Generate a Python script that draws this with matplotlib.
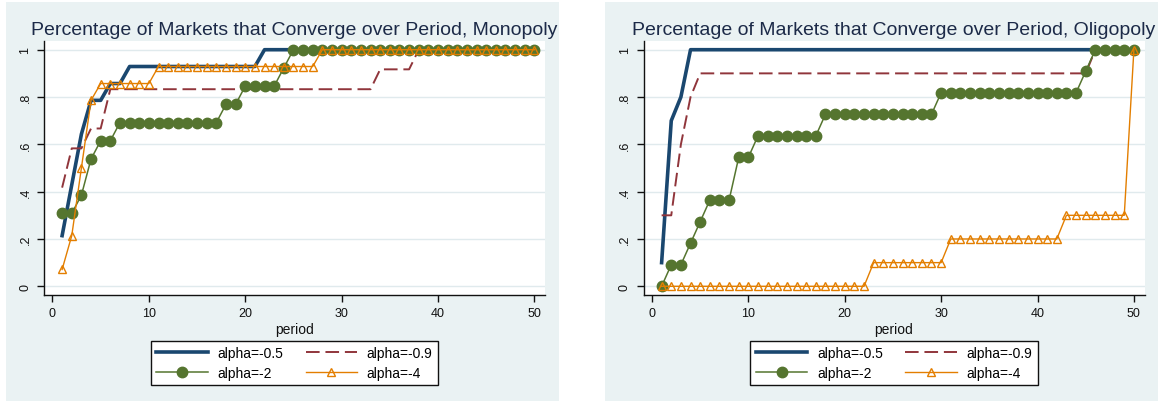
import matplotlib
matplotlib.use("Agg")
import matplotlib.pyplot as plt
from matplotlib.patches import Rectangle

plt.rcParams["font.family"] = ["Liberation Sans", "DejaVu Sans"]

periods = list(range(1, 51))
series_labels = ["alpha=-0.5", "alpha=-0.9", "alpha=-2", "alpha=-4"]
ytick_vals = [0, 0.2, 0.4, 0.6, 0.8, 1]
ytick_text = ["0", ".2", ".4", ".6", ".8", "1"]
xtick_vals = [0, 10, 20, 30, 40, 50]

# monopoly
mono_a05 = [0.214, 0.429, 0.643, 0.786, 0.786, 0.857, 0.857, 0.929, 0.929, 0.929,
            0.929, 0.929, 0.929, 0.929, 0.929, 0.929, 0.929, 0.929, 0.929, 0.929,
            0.929, 1, 1, 1, 1, 1, 1, 1, 1, 1,
            1, 1, 1, 1, 1, 1, 1, 1, 1, 1,
            1, 1, 1, 1, 1, 1, 1, 1, 1, 1]
mono_a09 = [0.417, 0.583, 0.583, 0.667, 0.667, 0.833, 0.833, 0.833, 0.833, 0.833,
            0.833, 0.833, 0.833, 0.833, 0.833, 0.833, 0.833, 0.833, 0.833, 0.833,
            0.833, 0.833, 0.833, 0.833, 0.833, 0.833, 0.833, 0.833, 0.833, 0.833,
            0.833, 0.833, 0.833, 0.917, 0.917, 0.917, 0.917, 1, 1, 1,
            1, 1, 1, 1, 1, 1, 1, 1, 1, 1]
mono_a2 = [0.308, 0.308, 0.385, 0.538, 0.615, 0.615, 0.692, 0.692, 0.692, 0.692,
           0.692, 0.692, 0.692, 0.692, 0.692, 0.692, 0.692, 0.769, 0.769, 0.846,
           0.846, 0.846, 0.846, 0.923, 1, 1, 1, 1, 1, 1,
           1, 1, 1, 1, 1, 1, 1, 1, 1, 1,
           1, 1, 1, 1, 1, 1, 1, 1, 1, 1]
mono_a4 = [0.071, 0.214, 0.5, 0.786, 0.857, 0.857, 0.857, 0.857, 0.857, 0.857,
           0.929, 0.929, 0.929, 0.929, 0.929, 0.929, 0.929, 0.929, 0.929, 0.929,
           0.929, 0.929, 0.929, 0.929, 0.929, 0.929, 0.929, 1, 1, 1,
           1, 1, 1, 1, 1, 1, 1, 1, 1, 1,
           1, 1, 1, 1, 1, 1, 1, 1, 1, 1]

# oligopoly
oli_a05 = [0.1, 0.7, 0.8, 1, 1, 1, 1, 1, 1, 1,
           1, 1, 1, 1, 1, 1, 1, 1, 1, 1,
           1, 1, 1, 1, 1, 1, 1, 1, 1, 1,
           1, 1, 1, 1, 1, 1, 1, 1, 1, 1,
           1, 1, 1, 1, 1, 1, 1, 1, 1, 1]
oli_a09 = [0.3, 0.3, 0.6, 0.8, 0.9, 0.9, 0.9, 0.9, 0.9, 0.9,
           0.9, 0.9, 0.9, 0.9, 0.9, 0.9, 0.9, 0.9, 0.9, 0.9,
           0.9, 0.9, 0.9, 0.9, 0.9, 0.9, 0.9, 0.9, 0.9, 0.9,
           0.9, 0.9, 0.9, 0.9, 0.9, 0.9, 0.9, 0.9, 0.9, 0.9,
           0.9, 0.9, 0.9, 0.9, 0.9, 1, 1, 1, 1, 1]
oli_a2 = [0, 0.091, 0.091, 0.182, 0.273, 0.364, 0.364, 0.364, 0.545, 0.545,
          0.636, 0.636, 0.636, 0.636, 0.636, 0.636, 0.636, 0.727, 0.727, 0.727,
          0.727, 0.727, 0.727, 0.727, 0.727, 0.727, 0.727, 0.727, 0.727, 0.818,
          0.818, 0.818, 0.818, 0.818, 0.818, 0.818, 0.818, 0.818, 0.818, 0.818,
          0.818, 0.818, 0.818, 0.818, 0.909, 1, 1, 1, 1, 1]
oli_a4 = [0, 0, 0, 0, 0, 0, 0, 0, 0, 0,
          0, 0, 0, 0, 0, 0, 0, 0, 0, 0,
          0, 0, 0.1, 0.1, 0.1, 0.1, 0.1, 0.1, 0.1, 0.1,
          0.2, 0.2, 0.2, 0.2, 0.2, 0.2, 0.2, 0.2, 0.2, 0.2,
          0.2, 0.2, 0.3, 0.3, 0.3, 0.3, 0.3, 0.3, 0.3, 1]

BG = "#eaf2f3"
GRID = "#e0eaed"
NAVY, MAROON, GREEN, ORANGE = "#1a476f", "#90353b", "#55752f", "#e37e00"
W, H = 1158, 402


def draw_panel(ax, title, a05, a09, a2, a4):
    ax.set_facecolor("white")
    l1, = ax.plot(periods, a05, color=NAVY, lw=2.6, label=series_labels[0])
    l2, = ax.plot(periods, a09, color=MAROON, lw=1.4, dashes=(7, 3), label=series_labels[1])
    l3, = ax.plot(periods, a2, color=GREEN, lw=1.1, marker="o", ms=7.5, mec=GREEN, mfc=GREEN,
                  label=series_labels[2])
    l4, = ax.plot(periods, a4, color=ORANGE, lw=1.0, marker="^", ms=6, mfc="none", mec=ORANGE,
                  mew=1.0, label=series_labels[3])
    ax.set_xlim(-0.88, 51.1)
    ax.set_ylim(-0.0368, 1.0368)
    ax.set_xticks(xtick_vals)
    ax.set_yticks(ytick_vals)
    ax.set_yticklabels(ytick_text, rotation=90, va="center")
    ax.tick_params(axis="both", labelsize=9, length=5, width=1, colors="#111111", pad=4)
    ax.yaxis.grid(True, color=GRID, lw=1.0)
    ax.set_axisbelow(True)
    for s in ("top", "right"):
        ax.spines[s].set_visible(False)
    for s in ("left", "bottom"):
        ax.spines[s].set_linewidth(1.0)
        ax.spines[s].set_color("#111111")
    ax.set_xlabel("period", fontsize=10, labelpad=2, color="#111111")
    ax.set_title(title, fontsize=14, color="#1c2a48", pad=5)
    # legend fills column-first, so order handles to get rows (-0.5, -0.9) / (-2, -4)
    handles = [l1, l3, l2, l4]
    leg = ax.legend(handles, [h.get_label() for h in handles], loc="center", ncol=2, fontsize=10,
                    bbox_to_anchor=(ax.get_position().x0 + ax.get_position().width / 2, 1 - 364 / H),
                    bbox_transform=ax.figure.transFigure,
                    frameon=True, fancybox=False, framealpha=1, edgecolor="#111111",
                    handlelength=3.7, handletextpad=0.7, columnspacing=1.6,
                    borderpad=0.4, labelspacing=0.4)
    leg.get_frame().set_linewidth(1.0)


fig = plt.figure(figsize=(W / 100, H / 100), dpi=100)
for x0 in (6, 605):
    fig.patches.append(Rectangle((x0 / W, 0), 553 / W, 399 / H, transform=fig.transFigure,
                                 facecolor=BG, edgecolor="none", zorder=-10))

ax1 = fig.add_axes([44 / W, 106 / H, 501 / W, 254 / H])
ax2 = fig.add_axes([643.5 / W, 106 / H, 501 / W, 254 / H])
draw_panel(ax1, "Percentage of Markets that Converge over Period, Monopoly",
           mono_a05, mono_a09, mono_a2, mono_a4)
draw_panel(ax2, "Percentage of Markets that Converge over Period, Oligopoly",
           oli_a05, oli_a09, oli_a2, oli_a4)

fig.savefig("out.png", dpi=100)
